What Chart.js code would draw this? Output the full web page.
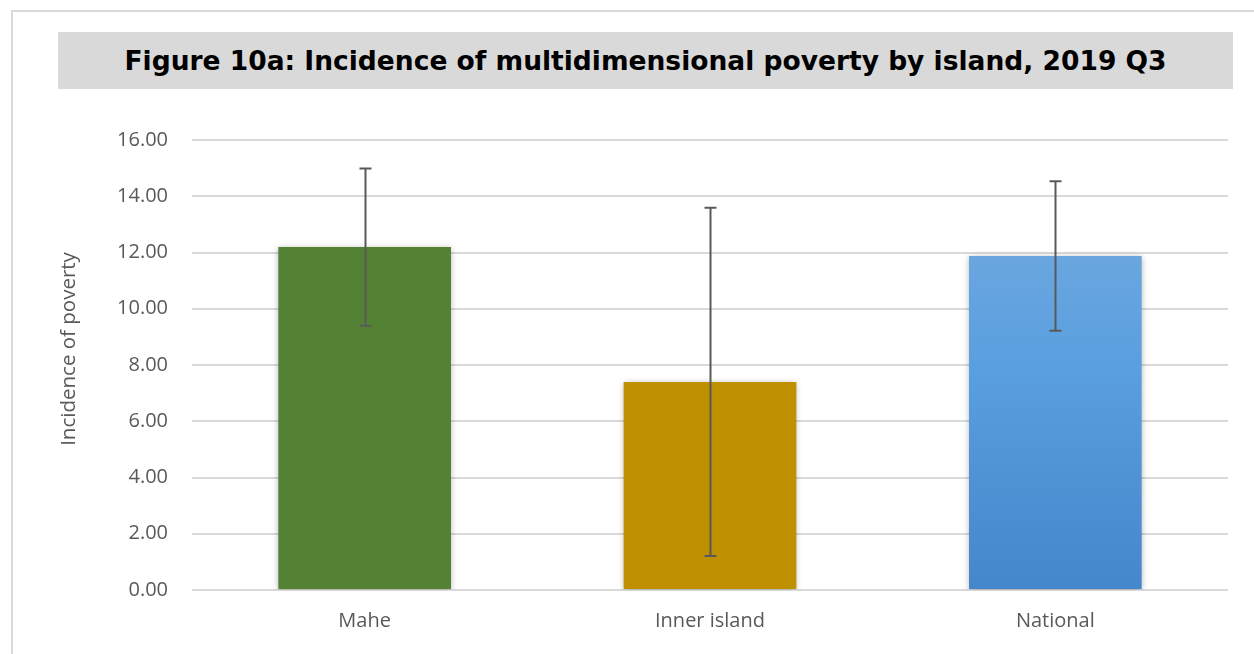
<!DOCTYPE html>
<html>
<head>
<meta charset="utf-8">
<script src="https://cdn.jsdelivr.net/npm/chart.js@4"></script>
<style>
  html, body { margin: 0; padding: 0; background: #fff; }
  #frame {
    position: absolute; left: 11px; top: 10px; width: 1260px; height: 660px;
    border: 2px solid #d9d9d9; box-sizing: border-box;
  }
  #title {
    position: absolute; left: 58px; top: 32px; width: 1175px; height: 57px;
    background: #d9d9d9; color: #000;
    font: bold 26.5px "DejaVu Sans", sans-serif;
    display: flex; align-items: center; justify-content: center;
  }
  #wrap { position: absolute; left: 0; top: 0; width: 1254px; height: 654px; }
</style>
</head>
<body>
<div id="frame"></div>
<div id="title">Figure 10a: Incidence of multidimensional poverty by island, 2019 Q3</div>
<div id="wrap"><canvas id="chart"></canvas></div>
<script>
// Data
const islands = ['Mahe', 'Inner island', 'National'];
const incidence = [12.20, 7.40, 11.88];
const errLow = [9.40, 1.21, 9.22];
const errHigh = [14.99, 13.59, 14.53];
const yTicks = [0, 2, 4, 6, 8, 10, 12, 14, 16];
const yTitle = 'Incidence of poverty';

const barColors = ['#548235', '#bf9000', null];

// light drop shadow under the bars
const shadowPlugin = {
    id: 'barShadow',
    beforeDatasetsDraw(chart) {
        const ctx = chart.ctx;
        ctx.save();
        ctx.shadowColor = 'rgba(0,0,0,0.28)';
        ctx.shadowBlur = 6;
        ctx.shadowOffsetX = 0;
        ctx.shadowOffsetY = 1;
    },
    afterDatasetsDraw(chart) {
        chart.ctx.restore();
    }
};

// error bars drawn from the arrays through the scales
const errorBarPlugin = {
    id: 'errorBars',
    afterDatasetsDraw(chart) {
        const ctx = chart.ctx;
        const y = chart.scales.y;
        const meta = chart.getDatasetMeta(0);
        ctx.save();
        ctx.strokeStyle = '#595959';
        ctx.lineWidth = 2;
        meta.data.forEach((bar, i) => {
            const x = Math.round(bar.x) + 0.5;
            const top = y.getPixelForValue(errHigh[i]);
            const bottom = y.getPixelForValue(errLow[i]);
            ctx.beginPath();
            ctx.moveTo(x, top);
            ctx.lineTo(x, bottom);
            ctx.moveTo(x - 6, top);
            ctx.lineTo(x + 6, top);
            ctx.moveTo(x - 6, bottom);
            ctx.lineTo(x + 6, bottom);
            ctx.stroke();
        });
        ctx.restore();
    }
};

// y axis title, sitting a little above the middle like the original
const yTitlePlugin = {
    id: 'yTitle',
    afterDraw(chart) {
        const ctx = chart.ctx;
        const area = chart.chartArea;
        ctx.save();
        ctx.translate(69, (area.top + area.bottom) / 2 - 16);
        ctx.rotate(-Math.PI / 2);
        ctx.fillStyle = '#595959';
        ctx.font = '20.5px "Open Sans"';
        ctx.textAlign = 'center';
        ctx.textBaseline = 'middle';
        ctx.fillText(yTitle, 0, 0);
        ctx.restore();
    }
};

const ctx = document.getElementById('chart').getContext('2d');
new Chart(ctx, {
    type: 'bar',
    data: {
        labels: islands,
        datasets: [{
            data: incidence,
            backgroundColor: (c) => {
                const i = c.dataIndex;
                if (barColors[i]) return barColors[i];
                const area = c.chart.chartArea;
                if (!area) return '#5b9bd5';
                const g = c.chart.ctx.createLinearGradient(0, area.top, 0, area.bottom);
                g.addColorStop(0, '#7aaee0');
                g.addColorStop(0.5, '#5a9fdf');
                g.addColorStop(1, '#4487cb');
                return g;
            },
            borderWidth: 0,
            categoryPercentage: 1,
            barPercentage: 0.5
        }]
    },
    options: {
        responsive: true,
        maintainAspectRatio: false,
        animation: false,
        layout: { padding: { left: 0, right: 26, top: 140, bottom: 10 } },
        plugins: {
            legend: { display: false },
            tooltip: { enabled: false }
        },
        scales: {
            x: {
                grid: { display: false },
                border: { display: false },
                ticks: {
                    color: '#595959',
                    font: { family: 'Open Sans', size: 20 },
                    padding: 11
                },
                afterFit(scale) { scale.height = 54; }
            },
            y: {
                min: 0,
                max: 16,
                afterBuildTicks(scale) {
                    scale.ticks = yTicks.map(v => ({ value: v }));
                },
                grid: { color: '#d9d9d9', lineWidth: 2, drawTicks: false },
                border: { display: false },
                ticks: {
                    color: '#595959',
                    font: { family: 'Open Sans', size: 20 },
                    padding: 24,
                    callback: (v) => Number(v).toFixed(2)
                },
                afterFit(scale) { scale.width = 192; }
            }
        }
    },
    plugins: [shadowPlugin, errorBarPlugin, yTitlePlugin]
});
</script>
</body>
</html>
